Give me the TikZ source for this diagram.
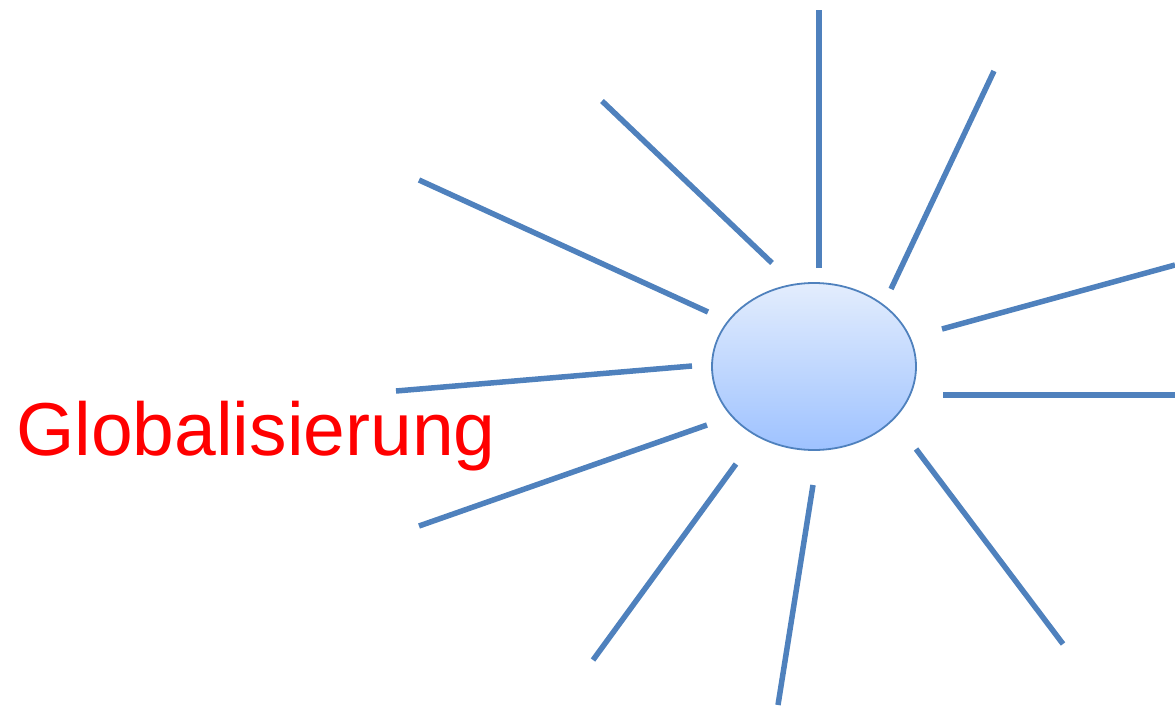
\documentclass[tikz,border=0pt]{standalone}
\usepackage{fontspec}
\setmainfont{Liberation Sans}
\usetikzlibrary{shapes.geometric}
\definecolor{raycol}{HTML}{4F81BD}
\definecolor{suntop}{HTML}{E3EDFD}
\definecolor{sunbot}{HTML}{9EC2FF}
\begin{document}
\begin{tikzpicture}[x=1pt, y=-1pt,
  ray/.style={draw=raycol, line width=5.5pt},
  sunbox/.style={draw=raycol, line width=1.8pt, ellipse, inner sep=0pt,
    minimum width=204pt, minimum height=167pt, top color=suntop, bottom color=sunbot}]
\useasboundingbox (0,0) rectangle (1175,706);
\node[sunbox] (sun) at (814,366.5) {};
\node[text=red, anchor=base west, inner sep=0pt, font=\fontsize{75}{90}\selectfont] (title) at (16,455) {Globalisierung};
% rays around the sun
\foreach \i/\ax/\ay/\bx/\by in {1/819/268/819/10, 2/891/289/994/71, 3/942/329/1175/265,
    4/943/395/1175/395, 5/916/449/1063/644, 6/813/485/778/705, 7/736/464/593/660,
    8/707/425/419/526, 9/692/366/396/391, 10/708/312/419/180, 11/772/263/602/101} {
  \coordinate (in\i) at (\ax,\ay);
  \coordinate (out\i) at (\bx,\by);
  \draw[ray] (in\i) -- (out\i);
}
\end{tikzpicture}
\end{document}
